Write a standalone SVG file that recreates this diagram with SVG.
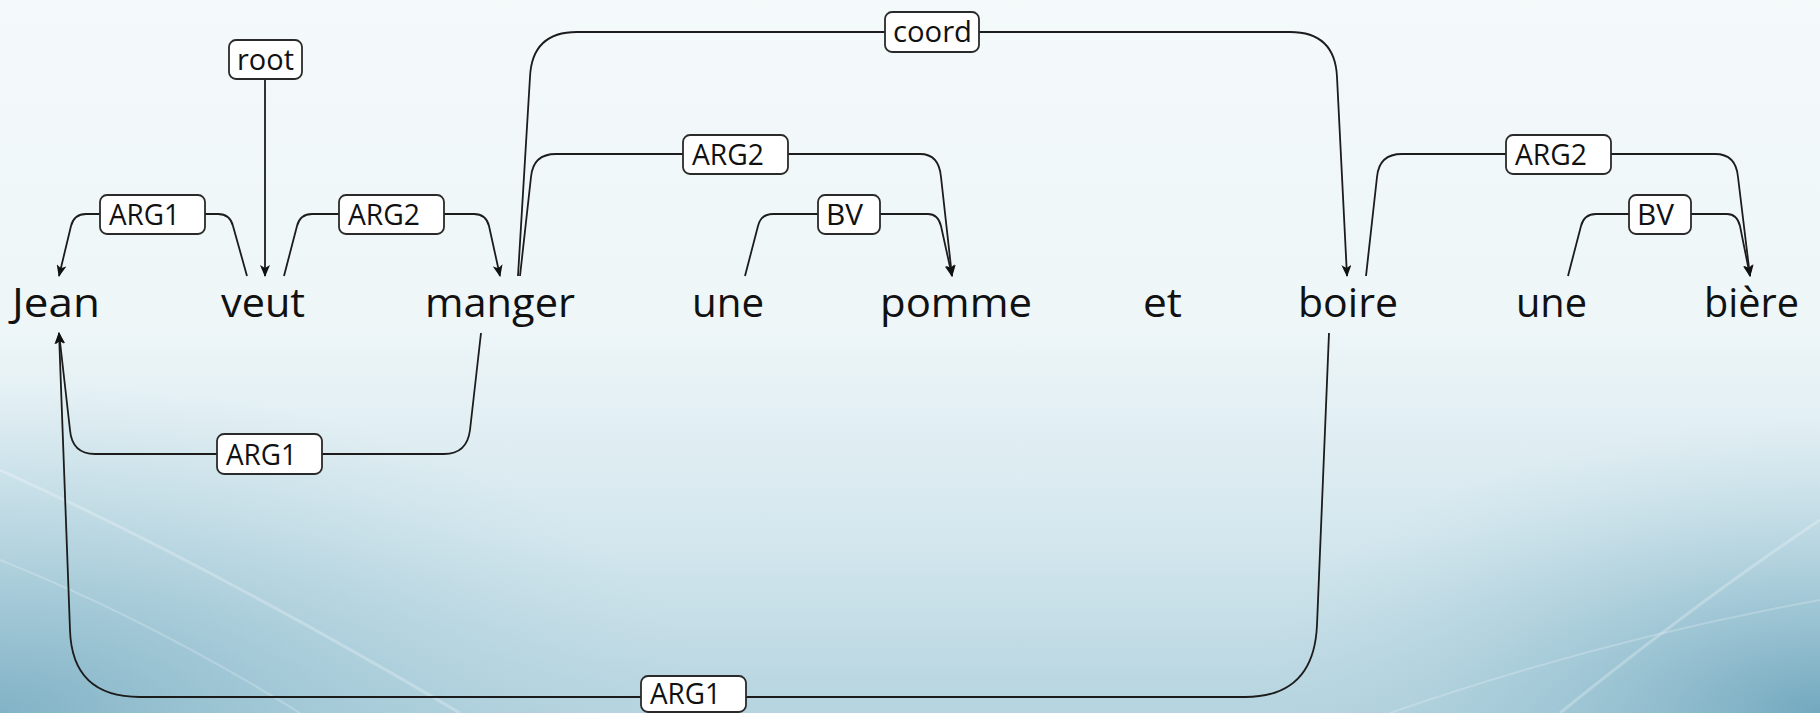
<svg xmlns="http://www.w3.org/2000/svg" width="1820" height="713" viewBox="0 0 1820 713">
<defs>
<linearGradient id="bg" x1="0" y1="0" x2="0" y2="1">
<stop offset="0" stop-color="#f4f9fa"/>
<stop offset="0.45" stop-color="#eef6f8"/>
<stop offset="0.75" stop-color="#d4e7ee"/>
<stop offset="1" stop-color="#b5d4df"/>
</linearGradient>
<radialGradient id="bl" cx="0" cy="1" r="1">
<stop offset="0" stop-color="#7fb1c5" stop-opacity="0.95"/>
<stop offset="0.6" stop-color="#9cc5d4" stop-opacity="0.4"/>
<stop offset="1" stop-color="#b3d3de" stop-opacity="0"/>
</radialGradient>
<radialGradient id="br" cx="1" cy="1" r="1">
<stop offset="0" stop-color="#6fa6bd" stop-opacity="0.95"/>
<stop offset="0.6" stop-color="#96c1d1" stop-opacity="0.4"/>
<stop offset="1" stop-color="#b3d3de" stop-opacity="0"/>
</radialGradient>
<marker id="arr" viewBox="0 0 12 10" refX="11" refY="5" markerWidth="12" markerHeight="10" markerUnits="userSpaceOnUse" orient="auto">
<path d="M0,0 L12,5 L0,10 L3,5 z" fill="#111"/>
</marker>
<style>
.w{font-family:"Open Sans","Noto Sans","Liberation Sans",sans-serif;font-size:41px;fill:#111}
.lb rect{fill:#fff;stroke:#2a2a2a;stroke-width:1.8}
.lb text{font-family:"Open Sans","Noto Sans","Liberation Sans",sans-serif;font-size:30px;fill:#111}
.e{fill:none;stroke:#1c1c1c;stroke-width:1.8;marker-end:url(#arr)}
</style>
</defs>
<rect width="1820" height="713" fill="url(#bg)"/>
<rect x="0" y="380" width="700" height="333" fill="url(#bl)"/>
<rect x="1250" y="420" width="570" height="293" fill="url(#br)"/>
<path d="M0,470 Q200,560 460,713" fill="none" stroke="#ffffff" stroke-opacity="0.25" stroke-width="3"/>
<path d="M0,560 Q150,620 300,713" fill="none" stroke="#ffffff" stroke-opacity="0.22" stroke-width="2"/>
<path d="M1820,520 Q1700,600 1560,713" fill="none" stroke="#ffffff" stroke-opacity="0.25" stroke-width="3"/>
<path d="M1820,600 Q1600,640 1390,713" fill="none" stroke="#ffffff" stroke-opacity="0.22" stroke-width="2"/>

<g id="connectors">
<path class="e" d="M247,276 L233,226 Q230,214 218,214 L86,214 Q74,214 71,226 L59,276"/>
<path class="e" d="M265,79 L265,276"/>
<path class="e" d="M284,276 L297,226 Q300,214 312,214 L474,214 Q486,214 489,226 L500,276"/>
<path class="e" d="M518,276 L530,77 Q532,32 577,32 L1290,32 Q1335,32 1337,77 L1347,276"/>
<path class="e" d="M520,276 L531,177 Q533,154 556,154 L920,154 Q939,154 941,177 L952,276"/>
<path class="e" d="M745,276 L758,226 Q761,214 773,214 L928,214 Q938,214 941,226 L952,276"/>
<path class="e" d="M1366,276 L1377,177 Q1379,154 1402,154 L1715,154 Q1736,154 1738,177 L1750,276"/>
<path class="e" d="M1568,276 L1581,226 Q1584,214 1596,214 L1727,214 Q1737,214 1740,226 L1750,276"/>
<path class="e" d="M481,333 L470,430 Q467,454 444,454 L95,454 Q72,454 70,430 L59,333"/>
<path class="e" d="M1329,333 L1317,625 Q1314,697 1245,697 L140,697 Q72,697 70,630 L59,333"/>
</g>

<g id="labels">
<g class="lb" id="lbl-root"><rect x="229" y="40" width="73" height="39" rx="7"/><text x="237" y="70" textLength="57" lengthAdjust="spacingAndGlyphs">root</text></g>
<g class="lb" id="lbl-arg1-a"><rect x="100" y="195" width="105" height="39" rx="7"/><text x="109" y="225" textLength="71" lengthAdjust="spacingAndGlyphs">ARG1</text></g>
<g class="lb" id="lbl-arg2-a"><rect x="339" y="195" width="105" height="39" rx="7"/><text x="348" y="225" textLength="72" lengthAdjust="spacingAndGlyphs">ARG2</text></g>
<g class="lb" id="lbl-coord"><rect x="885" y="12" width="94" height="40" rx="7"/><text x="893" y="42" textLength="79" lengthAdjust="spacingAndGlyphs">coord</text></g>
<g class="lb" id="lbl-arg2-b"><rect x="683" y="135" width="105" height="39" rx="7"/><text x="692" y="165" textLength="72" lengthAdjust="spacingAndGlyphs">ARG2</text></g>
<g class="lb" id="lbl-bv-a"><rect x="818" y="195" width="62" height="39" rx="7"/><text x="826" y="225" textLength="37" lengthAdjust="spacingAndGlyphs">BV</text></g>
<g class="lb" id="lbl-arg2-c"><rect x="1506" y="135" width="105" height="39" rx="7"/><text x="1515" y="165" textLength="72" lengthAdjust="spacingAndGlyphs">ARG2</text></g>
<g class="lb" id="lbl-bv-b"><rect x="1629" y="195" width="62" height="39" rx="7"/><text x="1637" y="225" textLength="37" lengthAdjust="spacingAndGlyphs">BV</text></g>
<g class="lb" id="lbl-arg1-b"><rect x="217" y="434" width="105" height="40" rx="7"/><text x="226" y="465" textLength="71" lengthAdjust="spacingAndGlyphs">ARG1</text></g>
<g class="lb" id="lbl-arg1-c"><rect x="641" y="676" width="105" height="36" rx="7"/><text x="650" y="704" textLength="71" lengthAdjust="spacingAndGlyphs">ARG1</text></g>
</g>

<g id="n-jean"><text class="w" x="12" y="317" textLength="88" lengthAdjust="spacingAndGlyphs">Jean</text></g>
<g id="n-veut"><text class="w" x="221" y="317" textLength="84" lengthAdjust="spacingAndGlyphs">veut</text></g>
<g id="n-manger"><text class="w" x="425" y="317" textLength="150" lengthAdjust="spacingAndGlyphs">manger</text></g>
<g id="n-une1"><text class="w" x="692" y="317" textLength="72" lengthAdjust="spacingAndGlyphs">une</text></g>
<g id="n-pomme"><text class="w" x="880" y="317" textLength="152" lengthAdjust="spacingAndGlyphs">pomme</text></g>
<g id="n-et"><text class="w" x="1143" y="317" textLength="39" lengthAdjust="spacingAndGlyphs">et</text></g>
<g id="n-boire"><text class="w" x="1298" y="317" textLength="100" lengthAdjust="spacingAndGlyphs">boire</text></g>
<g id="n-une2"><text class="w" x="1516" y="317" textLength="71" lengthAdjust="spacingAndGlyphs">une</text></g>
<g id="n-biere"><text class="w" x="1704" y="317" textLength="95" lengthAdjust="spacingAndGlyphs">bière</text></g>
</svg>
